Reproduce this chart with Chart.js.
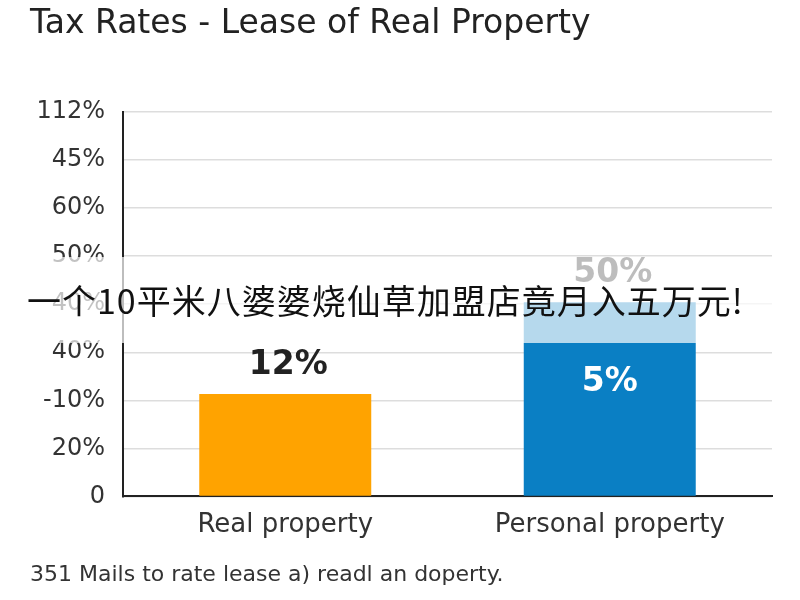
<!DOCTYPE html>
<html>
<head>
<meta charset="utf-8">
<script src="https://cdn.jsdelivr.net/npm/chart.js@4/dist/chart.umd.min.js"></script>
<style>
  html, body { margin: 0; padding: 0; background: #fff; }
  #wrap { position: relative; width: 800px; height: 600px; overflow: hidden; }
  #banner {
    position: absolute; left: 0; top: 257px; width: 800px; height: 86px;
    background: rgba(255,255,255,0.7);
    font-family: "Noto Sans CJK SC", sans-serif; font-size: 34px; color: #111;
    letter-spacing: 1px;
    line-height: 86px; padding-left: 27px; box-sizing: border-box; white-space: nowrap;
  }
</style>
</head>
<body>
<div id="wrap">
  <canvas id="c" width="800" height="600"></canvas>
  <div id="banner">一个10平米八婆婆烧仙草加盟店竟月入五万元!</div>
</div>
<script>
const titleText = "Tax Rates - Lease of Real Property";
const footnoteText = "351 Mails to rate lease a) readl an doperty.";
const categories = ["Real property", "Personal property"];
const barValues = [2.13, 4.04];               // heights in axis units (one unit per tick row)
const topLabels = ["12%", "50%"];
const innerLabels = ["", "5%"];
const yTickLabels = ["0", "20%", "-10%", "40%", "40%", "50%", "60%", "45%", "112%"];
const barColors = ["#FFA300", "#0A7FC4"];

const FONT = "'DejaVu Sans', sans-serif";

const labelPlugin = {
  id: "barLabels",
  afterDatasetsDraw(chart) {
    const ctx = chart.ctx;
    const meta = chart.getDatasetMeta(0);
    ctx.save();
    ctx.textAlign = "center";
    ctx.textBaseline = "middle";
    meta.data.forEach((bar, i) => {
      ctx.font = "bold 33px " + FONT;
      ctx.fillStyle = "#222";
      if (topLabels[i]) ctx.fillText(topLabels[i], bar.x + 3, bar.y - 29);
      if (innerLabels[i]) {
        ctx.fillStyle = "#fff";
        ctx.fillText(innerLabels[i], bar.x, bar.y + 80);
      }
    });
    ctx.restore();
  }
};

new Chart(document.getElementById("c"), {
  type: "bar",
  data: {
    labels: categories,
    datasets: [{
      data: barValues,
      backgroundColor: barColors,
      borderWidth: 0,
      barPercentage: 0.53,
      categoryPercentage: 1.0
    }]
  },
  options: {
    responsive: false,
    animation: false,
    layout: { padding: { left: 30, right: 28, top: 0, bottom: 0 } },
    plugins: {
      legend: { display: false },
      tooltip: { enabled: false },
      title: {
        display: true, text: titleText, align: "start", color: "#222",
        font: { family: FONT, size: 33, weight: "normal" },
        padding: { top: 5, bottom: 67.4 }
      },
      subtitle: {
        display: true, text: footnoteText, position: "bottom", align: "start", color: "#333",
        font: { family: FONT, size: 22, weight: "normal" },
        padding: { top: 16, bottom: 12 }
      }
    },
    scales: {
      x: {
        grid: { display: false },
        border: { color: "#222", width: 2 },
        ticks: { color: "#333", font: { family: FONT, size: 26 }, padding: 5 }
      },
      y: {
        min: 0, max: 8,
        afterFit: (scale) => { scale.width = 93; },
        grid: { color: "#dddddd", lineWidth: 1.5, drawTicks: false },
        border: { color: "#222", width: 2 },
        ticks: {
          stepSize: 1, padding: 18, color: "#333",
          font: { family: FONT, size: 24 },
          callback: (v) => yTickLabels[v]
        }
      }
    }
  },
  plugins: [labelPlugin]
});
</script>
</body>
</html>
